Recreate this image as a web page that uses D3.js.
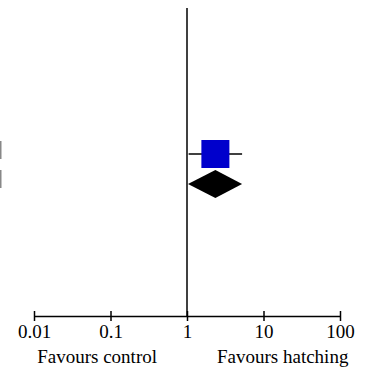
<!DOCTYPE html>
<html>
<head>
<meta charset="utf-8">
<script src="https://cdn.jsdelivr.net/npm/d3@7"></script>
</head>
<body style="margin:0">
<svg id="forest" width="371" height="371" style="font-family:'Liberation Serif'"></svg>
<script>
// data
var studies = ["Hatching", "Overall"];
var estimates = [2.35, 2.35];
var lower = [1.05, 1.03];
var upper = [5.25, 5.25];
var tickValues = [0.01, 0.1, 1, 10, 100];
var tickLabels = ["0.01", "0.1", "1", "10", "100"];
var sideLabels = ["Favours control", "Favours hatching"];

var svg = d3.select("#forest");

// scales
var xScale = d3.scaleLog()
    .domain([0.01, 100])
    .range([34, 340]);

var yScale = d3.scalePoint()
    .domain(studies)
    .range([154, 184]);

var axisY = 316;

// axis
var xAxis = d3.axisBottom(xScale)
    .tickValues(tickValues)
    .tickFormat(function (d, i) { return tickLabels[i]; })
    .tickSize(5)
    .tickSizeOuter(0);

var gx = svg.append("g").attr("transform", "translate(0," + axisY + ")").call(xAxis);
gx.attr("font-family", "Liberation Serif").attr("font-size", null);
gx.select(".domain").attr("stroke", "#000").attr("stroke-width", 1.5);
gx.selectAll(".tick line").attr("y1", -5).attr("y2", 5).attr("stroke-width", 1.5);
gx.selectAll(".tick text")
    .attr("y", 9)
    .attr("dy", "0.71em")
    .style("font-family", "'Liberation Serif'")
    .style("font-size", "19px")
    .attr("fill", "#000");

// line of no effect
svg.append("line")
    .attr("x1", xScale(1)).attr("x2", xScale(1))
    .attr("y1", 8).attr("y2", axisY)
    .attr("stroke", "#000").attr("stroke-width", 1.5);

// clipped row labels at the left edge
svg.selectAll(".rowlab")
    .data(studies)
    .enter()
    .append("rect")
    .attr("x", 0)
    .attr("y", function (d, i) { return yScale(d) - (i == 0 ? 13 : 14); })
    .attr("width", 1.5)
    .attr("height", 18)
    .attr("fill", "#888");

// study row: CI line + square
svg.append("line")
    .attr("x1", xScale(lower[0])).attr("x2", xScale(upper[0]))
    .attr("y1", yScale(studies[0])).attr("y2", yScale(studies[0]))
    .attr("stroke", "#000").attr("stroke-width", 1.5);

svg.append("rect")
    .attr("x", xScale(estimates[0]) - 14)
    .attr("y", yScale(studies[0]) - 14)
    .attr("width", 28)
    .attr("height", 28)
    .attr("fill", "#0000cc");

// overall diamond
var dy = yScale(studies[1]);
svg.append("path")
    .attr("d", "M" + xScale(lower[1]) + "," + dy +
               "L" + xScale(estimates[1]) + "," + (dy - 14) +
               "L" + xScale(upper[1]) + "," + dy +
               "L" + xScale(estimates[1]) + "," + (dy + 14) + "Z")
    .attr("fill", "#000");

// side labels
svg.append("text")
    .attr("x", xScale(1) - 30)
    .attr("y", 363)
    .attr("text-anchor", "end")
    .style("font-family", "'Liberation Serif'")
    .style("font-size", "19px")
    .text(sideLabels[0]);

svg.append("text")
    .attr("x", xScale(1) + 30)
    .attr("y", 363)
    .style("font-family", "'Liberation Serif'")
    .style("font-size", "19px")
    .text(sideLabels[1]);
</script>
</body>
</html>
